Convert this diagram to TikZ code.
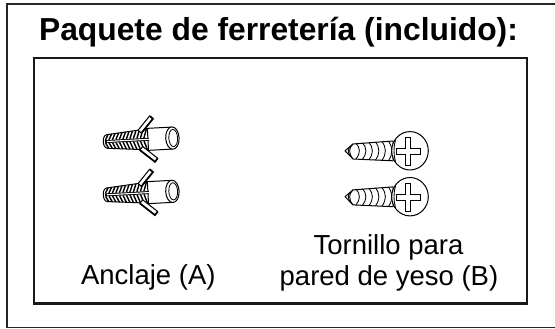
\documentclass[tikz,border=0pt]{standalone}
\usepackage{fontspec}
\setmainfont{Liberation Sans}
\begin{document}
\begin{tikzpicture}[x=1pt,y=-1pt,
  frame/.style={line width=1.5pt, draw=black!85},
  boxline/.style={line width=2.6pt, draw=black!90},
  part/.style={line width=1pt, line join=round},
  thr/.style={line width=1.4pt},
  sthr/.style={line width=0.85pt},
  lbl/.style={font=\fontsize{27.5}{30.7}\selectfont, inner sep=0pt, anchor=base},
  ttl/.style={font=\fontsize{31.8}{36}\selectfont\bfseries, inner sep=0pt, anchor=base},
  anchorpic/.pic={
    % tube
    \fill[white] (42,-11) -- (69,-11) -- (69,11) -- (42,11) -- cycle;
    \draw[part] (42,-11) -- (69,-11);
    \draw[part] (42,11) -- (69,11);
    \draw[part, fill=white] (69.5,0) ellipse[x radius=6.7, y radius=11.2];
    \draw[line width=0.8pt] (70.3,0) ellipse[x radius=4.4, y radius=8.6];
    % threaded body
    \draw[part, fill=white] (45,-10.5) -- (4,-6.8) .. controls (-1,-6.3) and (-1,6.3) .. (4,6.8) -- (45,10.5) -- cycle;
    \foreach \x in {2.5,6,...,41} {
      \draw[thr] (\x,-1.5) -- ({\x+3},{-(6.6+(\x+3)*0.085)});
      \draw[thr] (\x,1.5) -- ({\x+3},{6.6+(\x+3)*0.085});
    }
    \draw[line width=3pt] (2,0) -- (46,0);
    \draw[white, line width=1.1pt] (4,0) -- (46,0);
    % fins
    \draw[part, fill=white] (35.6,-9.6) -- (47.9,-23.3) -- (51.1,-20.3) -- (38.8,-6.6) -- cycle;
    \draw[line width=1.7pt] (47.9,-23.3) -- (51.1,-20.3) -- (38.8,-6.6);
    \draw[part, fill=white] (36.4,10.3) -- (50.8,22.8) -- (53.8,19.4) -- (39.4,6.9) -- cycle;
    \draw[line width=1.7pt] (36.4,10.3) -- (50.8,22.8) -- (53.8,19.4);
  },
  screwpic/.pic={
    % shank
    \draw[part, fill=white] (0,0) -- (8,-6.8) -- (48,-9.8) -- (48,10) -- (8,8.2) -- cycle;
    \foreach \x in {11,17.5,...,44} {
      \draw[sthr] (\x,{-(7+\x*0.06)}) .. controls ({\x+4.5},-3) and ({\x+4.5},3) .. (\x,{7.6+\x*0.05});
    }
    \draw[sthr] (8,-6.8) .. controls (3.5,-2.5) and (3.5,2.5) .. (8,8.2);
    \draw[sthr] (5.5,-4.5) .. controls (2.5,-1.5) and (2.5,1.5) .. (5.5,5.2);
    % head
    \draw[part, fill=white] (65,0) ellipse[x radius=18.3, y radius=19.2];
    \draw[sthr] (50.5,-11) .. controls (48.5,-4) and (48.5,4) .. (50.5,11);
    % cross recess
    \draw[line width=0.9pt, line join=miter] (60,-13.5) -- (65,-13.5) -- (65,-2.3) -- (75,-2.3) -- (75,3.4) -- (65,3.4) -- (65,15) -- (60,15) -- (60,3.4) -- (51.7,3.4) -- (51.7,-2.3) -- (60,-2.3) -- cycle;
  }]
\useasboundingbox (0,0) rectangle (555,329);
\draw[frame] (555,4) -- (7,4) -- (7,327.5) -- (555,327.5);
\draw[boxline] (34,58) rectangle (527,303.5);
\node[ttl] (title) at (278.5,41) {Paquete de ferretería (incluido):};
\pic[rotate=3] (ancA1) at (103,141.7) {anchorpic};
\pic[rotate=3] (ancA2) at (103,195) {anchorpic};
\pic (scrB1) at (345,150.8) {screwpic};
\pic (scrB2) at (345,196.7) {screwpic};
\node[lbl] (labA) at (148.3,284) {Anclaje (A)};
\node[lbl] (labB1) at (388.5,254.3) {Tornillo para};
\node[lbl] (labB2) at (389,285) {pared de yeso (B)};
\end{tikzpicture}
\end{document}
